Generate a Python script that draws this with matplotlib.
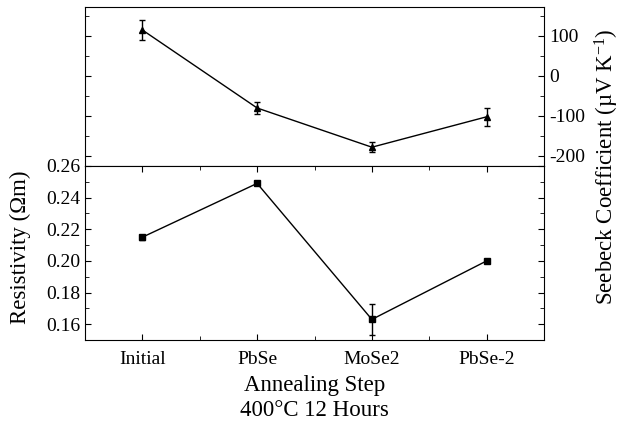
import matplotlib
matplotlib.use('Agg')
import matplotlib.pyplot as plt
from matplotlib.ticker import MultipleLocator

plt.rcParams['font.family'] = ['Liberation Serif', 'DejaVu Serif']
plt.rcParams['mathtext.default'] = 'regular'
plt.rcParams['axes.unicode_minus'] = False
plt.rcParams['font.size'] = 14

steps = ['Initial', 'PbSe', 'MoSe2', 'PbSe-2']
seebeck = [115, -80, -178, -102]
seebeck_err = [24, 14, 13, 22]
resistivity = [0.215, 0.249, 0.163, 0.200]
resistivity_err = [0.0015, 0.001, 0.0097, 0.0008]

x = list(range(len(steps)))
label_size = 16.5

fig = plt.figure(figsize=(6.22, 4.24), dpi=100)
W, H = 622, 424
left, right = 85, 544
ax_top = fig.add_axes([left / W, (H - 166) / H, (right - left) / W, (166 - 7) / H])
ax_bot = fig.add_axes([left / W, (H - 340) / H, (right - left) / W, (340 - 166) / H])

# seebeck panel
ax_top.errorbar(x, seebeck, yerr=seebeck_err, color='black', marker='^', markersize=5,
                linewidth=1, elinewidth=1, capsize=2.5, capthick=1)
ax_top.set_xlim(-0.5, 3.5)
ax_top.set_ylim(-225, 172.5)
ax_top.yaxis.set_major_locator(MultipleLocator(100))
ax_top.yaxis.set_minor_locator(MultipleLocator(50))
ax_top.xaxis.set_major_locator(MultipleLocator(1))
ax_top.yaxis.tick_right()
ax_top.tick_params(axis='y', which='both', direction='in', left=True, right=True,
                   labelleft=False, labelright=True)
ax_top.tick_params(axis='x', which='both', bottom=False, top=False, labelbottom=False)
ax_top.tick_params(which='major', length=4)
ax_top.tick_params(which='minor', length=3)

# resistivity panel
ax_bot.errorbar(x, resistivity, yerr=resistivity_err, color='black', marker='s', markersize=4.5,
                linewidth=1, elinewidth=1, capsize=2.5, capthick=1)
ax_bot.set_xlim(-0.5, 3.5)
ax_bot.set_ylim(0.15, 0.26)
ax_bot.set_xticks(x)
ax_bot.set_xticklabels(steps)
ax_bot.xaxis.set_minor_locator(MultipleLocator(0.5))
ax_bot.yaxis.set_major_locator(MultipleLocator(0.02))
ax_bot.yaxis.set_minor_locator(MultipleLocator(0.01))
ax_bot.yaxis.set_major_formatter(plt.FormatStrFormatter('%.2f'))
ax_bot.tick_params(which='both', direction='in', top=True, right=True)
ax_bot.tick_params(which='major', length=4)
ax_bot.tick_params(which='minor', length=3)
ax_bot.tick_params(axis='x', pad=8)
ax_bot.set_xlabel('Annealing Step\n400°C 12 Hours', fontsize=label_size,
                  linespacing=1.25, labelpad=5)

fig.text(20 / W, 1 - 247 / H, 'Resistivity (Ωm)', rotation=90,
         ha='center', va='center', fontsize=label_size)
fig.text(607 / W, 1 - 167 / H, 'Seebeck Coefficient (µV K$^{-1}$)', rotation=90,
         ha='center', va='center', fontsize=label_size)

fig.savefig('out.png', dpi=100)
